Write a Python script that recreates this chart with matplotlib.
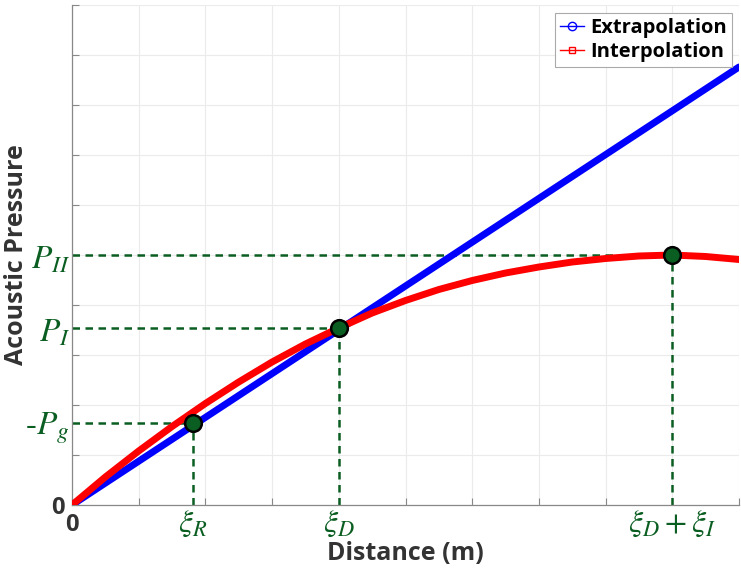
import numpy as np
import matplotlib.pyplot as plt
from matplotlib.lines import Line2D

plt.rcParams['font.family'] = ['Open Sans', 'DejaVu Sans']
plt.rcParams['mathtext.fontset'] = 'stix'

# straight-line extrapolation (end points)
x_extra = [0, 10]
y_extra = [0, 8.76]

# interpolated pressure curve
x_inter = [0, 0.5, 1, 1.5, 2, 2.5, 3, 3.5, 4, 4.5, 5, 5.5, 6, 6.5, 7, 7.5, 8, 8.5, 9, 9.5, 10]
y_inter = [0, 0.56, 1.08, 1.57, 2.03, 2.46, 2.86, 3.22, 3.54, 3.84, 4.09, 4.31, 4.49, 4.64,
           4.76, 4.86, 4.93, 4.98, 5.0, 4.97, 4.91]

# marked points: xi_R, xi_D, xi_D + xi_I
pt_x = [1.81, 4.0, 9.0]
pt_y = [1.64, 3.54, 5.0]
pt_xlabels = [r'$\xi_R$', r'$\xi_D$', r'$\xi_D+\xi_I$']
pt_ylabels = [r'$\text{-}P_g$', r'$P_I$', r'$P_{II}$']

green = '#0b5e22'
txt = '#333333'

fig = plt.figure(figsize=(7.41, 5.69), dpi=100)
ax = fig.add_axes([72 / 741, 64 / 569, 667 / 741, 500 / 569])

ax.plot(x_extra, y_extra, color='blue', lw=5, solid_capstyle='round', zorder=3)
ax.plot(x_inter, y_inter, color='red', lw=5, solid_capstyle='round', zorder=4)

# dashed guides from each point to the axes
for px, py in zip(pt_x, pt_y):
    ax.plot([0, px], [py, py], color=green, lw=1.8, ls=(0, (3, 2.2)), zorder=2)
    ax.plot([px, px], [0, py], color=green, lw=1.8, ls=(0, (3, 2.2)), zorder=2)

ax.plot(pt_x, pt_y, 'o', ms=12, mfc=green, mec='black', mew=1.8, zorder=5)

# symbolic labels
for px, lab in zip(pt_x, pt_xlabels):
    ax.text(px, -0.04, lab, color=green, fontsize=23, ha='center', va='top')
for py, lab in zip(pt_y, pt_ylabels):
    ax.text(-0.03, py - 0.1, lab, color=green, fontsize=24, ha='right', va='center')

ax.set_xlim(0, 10)
ax.set_ylim(0, 10)
ax.set_xticks(range(11))
ax.set_yticks(range(11))
ax.set_xticklabels(['0'] + [''] * 10)
ax.set_yticklabels(['0'] + [''] * 10)
ax.tick_params(direction='in', length=5, color='#888888', labelsize=17,
               labelcolor=txt, width=0.8)
for lab in ax.get_xticklabels() + ax.get_yticklabels():
    lab.set_fontweight('bold')
ax.tick_params(axis='x', pad=6)
ax.tick_params(axis='y', pad=5)

ax.grid(True, color='#ebebeb', lw=0.8)
ax.set_axisbelow(True)
for side in ['top', 'right']:
    ax.spines[side].set_visible(False)
for side in ['left', 'bottom']:
    ax.spines[side].set_color('#888888')
    ax.spines[side].set_linewidth(0.9)

ax.set_xlabel('Distance (m)', fontsize=18, fontweight='bold', color=txt)
ax.set_ylabel('Acoustic Pressure', fontsize=18, fontweight='bold', color=txt)
ax.xaxis.set_label_coords(0.5, -0.072)
ax.yaxis.set_label_coords(-0.064, 0.5)

handles = [
    Line2D([0], [0], color='blue', lw=1, marker='o', ms=6, mfc='none', mew=1),
    Line2D([0], [0], color='red', lw=1, marker='s', ms=5, mfc='none', mew=1),
]
leg = ax.legend(handles, ['Extrapolation', 'Interpolation'], loc='upper right',
                bbox_to_anchor=(0.989, 0.984), prop={'weight': 'bold', 'size': 14.5},
                handlelength=1.2, handletextpad=0.3, borderpad=0.25, labelspacing=0.2,
                borderaxespad=0, fancybox=False, framealpha=1, edgecolor='#aaaaaa')
leg.get_frame().set_linewidth(0.8)

fig.savefig('out.png', dpi=100)
